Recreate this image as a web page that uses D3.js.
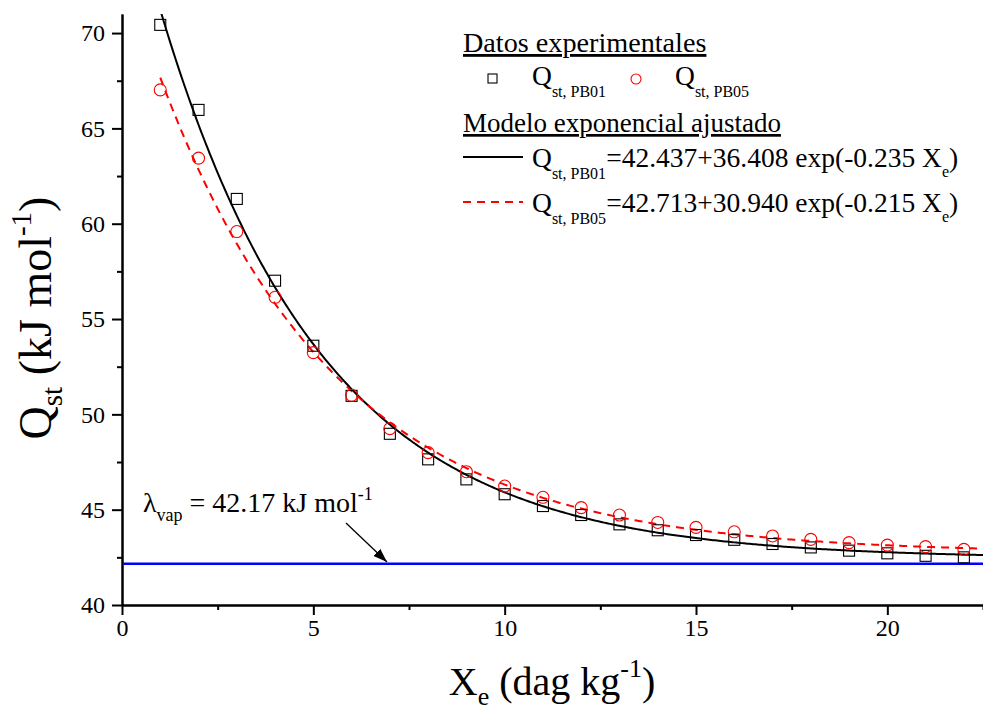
<!DOCTYPE html>
<html>
<head>
<meta charset="utf-8">
<script src="https://cdn.jsdelivr.net/npm/d3@7"></script>
<style>
  body { margin: 0; background: #fff; }
  svg { display: block; font-family: "Liberation Serif", "Times New Roman", serif; }
</style>
</head>
<body>
<svg id="plot" width="983" height="707"></svg>
<script>
const width = 983;
const height = 707;

// moisture content (dag/kg)
const xe = [1, 2, 3, 4, 5, 6, 7, 8, 9, 10, 11, 12, 13, 14, 15, 16, 17, 18, 19, 20, 21, 22];
// isosteric heat, PB01 and PB05 (kJ/mol)
const qPB01 = [70.43, 65.97, 61.30, 57.01, 53.60, 50.97, 48.98, 47.64, 46.59, 45.81, 45.19, 44.72,
  44.23, 43.92, 43.67, 43.42, 43.20, 43.02, 42.85, 42.71, 42.58, 42.50];
const qPB05 = [67.02, 63.44, 59.59, 56.14, 53.24, 51.00, 49.25, 47.99, 46.99, 46.24, 45.65, 45.11,
  44.72, 44.33, 44.07, 43.84, 43.62, 43.44, 43.27, 43.14, 43.06, 42.92];

// fitted model Q = a + b exp(c Xe), parameters as printed in the legend
const fitPB01 = [42.437, 36.408, -0.235];
const fitPB05 = [42.713, 30.940, -0.215];
const fitRange = [1, 22.5];

const lambdaVap = 42.17;

const xTicks = [0, 5, 10, 15, 20];
const xMinor = [2.5, 7.5, 12.5, 17.5, 22.5];
const yTicks = [40, 45, 50, 55, 60, 65, 70];
const yMinor = [42.5, 47.5, 52.5, 57.5, 62.5, 67.5];

const svg = d3.select("#plot");

const x = d3.scaleLinear().domain([0, 22.5]).range([122, 983]);
const y = d3.scaleLinear().domain([40, 71]).range([605, 14]);

svg.append("defs").append("clipPath").attr("id", "clip")
  .append("rect")
  .attr("x", x(0)).attr("y", y(71))
  .attr("width", x(22.5) - x(0)).attr("height", y(40) - y(71));

// axes
const xAxis = d3.axisBottom(x).tickValues(xTicks).tickSize(10).tickPadding(4).tickSizeOuter(0);
const yAxis = d3.axisLeft(y).tickValues(yTicks).tickSize(10).tickPadding(7).tickSizeOuter(0);

function styleAxis(g) {
  g.attr("font-family", "Liberation Serif");
  g.selectAll("path, line").attr("stroke", "#000").attr("stroke-width", 2);
  g.selectAll("text").attr("font-family", "Liberation Serif").attr("font-size", 24).attr("fill", "#000");
}

svg.append("g").attr("transform", `translate(0,${y(40)})`)
  .call(d3.axisBottom(x).tickValues(xMinor).tickSize(5).tickFormat("").tickSizeOuter(0))
  .call(styleAxis);
svg.append("g").attr("transform", `translate(${x(0)},0)`)
  .call(d3.axisLeft(y).tickValues(yMinor).tickSize(5).tickFormat("").tickSizeOuter(0))
  .call(styleAxis);

svg.append("g").attr("transform", `translate(0,${y(40)})`).call(xAxis).call(styleAxis);
svg.append("g").attr("transform", `translate(${x(0)},0)`).call(yAxis).call(styleAxis);

// lambda_vap line
svg.append("line")
  .attr("x1", x(0) + 1).attr("x2", x(22.5))
  .attr("y1", y(lambdaVap)).attr("y2", y(lambdaVap))
  .attr("stroke", "#0000ff").attr("stroke-width", 2.5);

// model curves
function curvePoints(p) {
  const pts = [];
  for (let v = fitRange[0]; v <= fitRange[1] + 1e-9; v += 0.05) {
    pts.push([v, p[0] + p[1] * Math.exp(p[2] * v)]);
  }
  return pts;
}
const line = d3.line().x(d => x(d[0])).y(d => y(d[1]));

const curves = svg.append("g").attr("clip-path", "url(#clip)");
curves.append("path")
  .attr("d", line(curvePoints(fitPB01)))
  .attr("fill", "none").attr("stroke", "#000").attr("stroke-width", 2);
curves.append("path")
  .attr("d", line(curvePoints(fitPB05)))
  .attr("fill", "none").attr("stroke", "#ff0000").attr("stroke-width", 2)
  .attr("stroke-dasharray", "8,6");

// experimental points
const pts = xe.map((v, i) => ({ x: v, a: qPB01[i], b: qPB05[i] }));
const sq = 11;
svg.append("g").selectAll("rect").data(pts).join("rect")
  .attr("x", d => x(d.x) - sq / 2).attr("y", d => y(d.a) - sq / 2)
  .attr("width", sq).attr("height", sq)
  .attr("fill", "none").attr("stroke", "#000").attr("stroke-width", 1.1);
svg.append("g").selectAll("circle").data(pts).join("circle")
  .attr("cx", d => x(d.x)).attr("cy", d => y(d.b)).attr("r", 6)
  .attr("fill", "none").attr("stroke", "#ff0000").attr("stroke-width", 1.1);

// axis titles
const xt = svg.append("text")
  .attr("x", 552).attr("y", 695)
  .attr("text-anchor", "middle").attr("font-size", 40);
xt.append("tspan").text("X");
xt.append("tspan").attr("font-size", 26).attr("dy", 10).text("e");
xt.append("tspan").attr("dy", -10).text(" (dag kg");
xt.append("tspan").attr("font-size", 26).attr("dy", -18).text("-1");
xt.append("tspan").attr("dy", 18).text(")");

const yt = svg.append("text")
  .attr("transform", "translate(51,318) rotate(-90)")
  .attr("text-anchor", "middle").attr("font-size", 46);
yt.append("tspan").text("Q");
yt.append("tspan").attr("font-size", 29).attr("dy", 11).text("st");
yt.append("tspan").attr("dy", -11).text(" (kJ mol");
yt.append("tspan").attr("font-size", 29).attr("dy", -20).text("-1");
yt.append("tspan").attr("dy", 20).text(")");

// lambda annotation
const lt = svg.append("text").attr("x", 143).attr("y", 512).attr("font-size", 28);
lt.append("tspan").text("λ");
lt.append("tspan").attr("font-size", 18).attr("dy", 9).text("vap");
lt.append("tspan").attr("dy", -9).text(" = 42.17 kJ mol");
lt.append("tspan").attr("font-size", 18).attr("dy", -12).text("-1");

svg.append("defs").append("marker")
  .attr("id", "arrow").attr("viewBox", "0 0 10 10")
  .attr("refX", 10).attr("refY", 5)
  .attr("markerWidth", 14).attr("markerHeight", 14).attr("markerUnits", "userSpaceOnUse")
  .attr("orient", "auto")
  .append("path").attr("d", "M0,1.5L10,5L0,8.5Z").attr("fill", "#000");
svg.append("line")
  .attr("x1", 346).attr("y1", 523).attr("x2", 387).attr("y2", 562)
  .attr("stroke", "#000").attr("stroke-width", 1.3)
  .attr("marker-end", "url(#arrow)");

// legend
const lg = svg.append("g").attr("font-size", 27.5);
lg.append("text").attr("x", 463).attr("y", 52).attr("text-decoration", "underline")
  .attr("font-size", 28.2)
  .text("Datos experimentales");
lg.append("text").attr("x", 463).attr("y", 132).attr("text-decoration", "underline")
  .attr("font-size", 27)
  .text("Modelo exponencial ajustado");

lg.append("rect").attr("x", 488).attr("y", 74).attr("width", 9).attr("height", 9)
  .attr("fill", "none").attr("stroke", "#000").attr("stroke-width", 1.1);
lg.append("circle").attr("cx", 636).attr("cy", 79).attr("r", 5)
  .attr("fill", "none").attr("stroke", "#ff0000").attr("stroke-width", 1.1);

function qLabel(xp, yp, id, rest) {
  const t = lg.append("text").attr("x", xp).attr("y", yp);
  t.append("tspan").text("Q");
  t.append("tspan").attr("font-size", 16).attr("dy", 12).text("st, " + id);
  if (rest) {
    t.append("tspan").attr("dy", -12).text(rest);
    t.append("tspan").attr("font-size", 16).attr("dy", 10).text("e");
    t.append("tspan").attr("dy", -10).text(")");
  }
}
qLabel(532, 85, "PB01");
qLabel(675, 85, "PB05");

lg.append("line").attr("x1", 463).attr("x2", 523).attr("y1", 157).attr("y2", 157)
  .attr("stroke", "#000").attr("stroke-width", 2);
qLabel(532, 167, "PB01", `=${fitPB01[0].toFixed(3)}+${fitPB01[1].toFixed(3)} exp(${fitPB01[2].toFixed(3)} X`);

lg.append("line").attr("x1", 463).attr("x2", 523).attr("y1", 202).attr("y2", 202)
  .attr("stroke", "#ff0000").attr("stroke-width", 2).attr("stroke-dasharray", "8,6");
qLabel(532, 212, "PB05", `=${fitPB05[0].toFixed(3)}+${fitPB05[1].toFixed(3)} exp(${fitPB05[2].toFixed(3)} X`);
</script>
</body>
</html>
